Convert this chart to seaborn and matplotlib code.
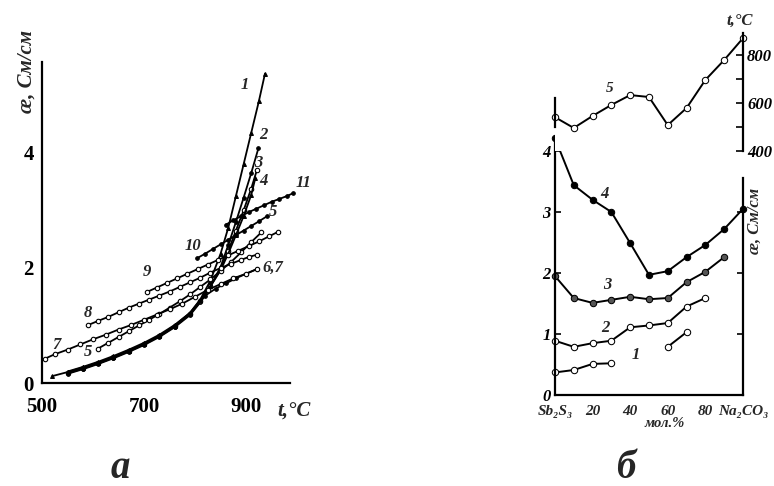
import matplotlib
matplotlib.use("Agg")
import matplotlib.pyplot as plt
import seaborn as sns

sns.set_style("white")
plt.rcParams['font.family'] = ['Liberation Serif', 'DejaVu Serif']

# ---------------- panel a : conductivity vs temperature ----------------
c1_T = [520, 550, 580, 610, 640, 670, 700, 730, 760, 790, 810, 830, 850, 865, 880, 895, 910, 925, 937]
c1_k = [0.12, 0.19, 0.27, 0.35, 0.45, 0.56, 0.68, 0.82, 1.0, 1.22, 1.45, 1.78, 2.25, 2.7, 3.25, 3.8, 4.35, 4.9, 5.38]
c2_T = [550, 580, 610, 640, 670, 700, 730, 760, 790, 810, 830, 850, 865, 880, 895, 910, 924]
c2_k = [0.16, 0.24, 0.33, 0.43, 0.54, 0.66, 0.8, 0.97, 1.18, 1.4, 1.68, 2.02, 2.4, 2.8, 3.22, 3.65, 4.08]
c3_T = [550, 580, 610, 640, 670, 700, 730, 760, 790, 810, 830, 850, 865, 880, 895, 910, 921]
c3_k = [0.18, 0.26, 0.35, 0.45, 0.56, 0.68, 0.82, 0.99, 1.2, 1.42, 1.68, 1.98, 2.3, 2.65, 3.0, 3.38, 3.7]
c4_T = [550, 580, 610, 640, 670, 700, 730, 760, 790, 810, 830, 850, 865, 880, 895, 910, 918]
c4_k = [0.2, 0.28, 0.37, 0.47, 0.58, 0.7, 0.84, 1.01, 1.22, 1.44, 1.68, 1.96, 2.25, 2.57, 2.9, 3.27, 3.56]
c5_T = [610, 630, 650, 670, 690, 710, 730, 750, 770, 790, 810, 830, 850, 870, 890, 910, 930]
c5_k = [0.6, 0.7, 0.8, 0.9, 1.0, 1.1, 1.2, 1.31, 1.42, 1.54, 1.67, 1.8, 1.95, 2.1, 2.27, 2.45, 2.62]
c6_T = [550, 580, 610, 640, 670, 700, 730, 760, 790, 820, 840, 860, 880, 900, 921]
c6_k = [0.17, 0.25, 0.34, 0.44, 0.55, 0.67, 0.81, 0.98, 1.2, 1.52, 1.64, 1.73, 1.82, 1.9, 1.98]
c7_T = [505, 525, 550, 575, 600, 625, 650, 675, 700, 725, 750, 775, 800, 825, 850, 875, 900, 921]
c7_k = [0.42, 0.5, 0.58, 0.67, 0.76, 0.84, 0.93, 1.01, 1.1, 1.19, 1.28, 1.38, 1.5, 1.62, 1.72, 1.82, 1.9, 1.98]
c8_T = [591, 610, 630, 650, 670, 690, 710, 730, 750, 770, 790, 810, 830, 850, 870, 890, 905, 921]
c8_k = [1.01, 1.08, 1.15, 1.23, 1.31, 1.38, 1.45, 1.52, 1.59, 1.67, 1.75, 1.83, 1.92, 2.0, 2.07, 2.14, 2.19, 2.23]
c9_T = [705, 725, 745, 765, 785, 805, 825, 845, 865, 885, 905, 925, 945, 963]
c9_k = [1.58, 1.66, 1.74, 1.82, 1.9, 1.98, 2.06, 2.14, 2.22, 2.3, 2.38, 2.46, 2.55, 2.63]
c10_T = [804, 820, 835, 850, 865, 880, 895, 910, 925, 941]
c10_k = [2.17, 2.25, 2.33, 2.41, 2.49, 2.57, 2.65, 2.73, 2.81, 2.9]
c11_T = [860, 875, 890, 905, 920, 935, 950, 965, 980, 992]
c11_k = [2.75, 2.83, 2.9, 2.97, 3.03, 3.09, 3.15, 3.2, 3.25, 3.3]

a_xticks = [500, 600, 700, 800, 900]
a_xticklabels = ['500', '', '700', '', '900']
a_yticks = [0, 1, 2, 3, 4, 5]
a_yticklabels = ['0', '', '2', '', '4', '']
a_labels = ['1', '2', '3', '4', '11', '5', '10', '6,7', '9', '8', '7', '5']
a_label_T = [898, 933, 924, 933, 1012, 953, 796, 953, 706, 590, 529, 590]
a_label_k = [5.18, 4.31, 3.83, 3.51, 3.48, 2.97, 2.38, 2.0, 1.93, 1.22, 0.66, 0.54]

# ---------------- panel б : composition dependence ----------------
comp = [0, 10, 20, 30, 40, 50, 60, 70, 80, 90, 100]
t5 = [541, 496, 546, 592, 633, 625, 508, 579, 696, 779, 870]
k4 = [4.21, 3.44, 3.2, 3.0, 2.49, 1.97, 2.03, 2.26, 2.46, 2.72, 3.05]
comp3 = [0, 10, 20, 30, 40, 50, 60, 70, 80, 90]
k3 = [1.95, 1.59, 1.51, 1.56, 1.61, 1.57, 1.59, 1.85, 2.02, 2.26]
comp2 = [0, 10, 20, 30, 40, 50, 60, 70, 80]
k2 = [0.89, 0.79, 0.85, 0.89, 1.11, 1.14, 1.18, 1.45, 1.59]
comp1a = [0, 10, 20, 30]
k1a = [0.37, 0.41, 0.51, 0.52]
comp1b = [60, 70]
k1b = [0.79, 1.03]

b_xticks = [0, 20, 40, 60, 80, 100]
b_xticklabels = ['Sb\u2082S\u2083', '20', '40', '60', '80', 'Na\u2082CO\u2083']
b_yticks = [0, 1, 2, 3, 4]
t_yticks = [400, 500, 600, 700, 800]
t_yticklabels = ['400', '', '600', '', '800']
b_labels = ['4', '3', '2', '1']
b_label_x = [26.5, 28, 27, 43]
b_label_y = [3.3, 1.8, 1.1, 0.65]

fig = plt.figure(figsize=(7.74, 4.86), dpi=100)
fig.patch.set_facecolor('white')

# ---- panel a ----
axA = fig.add_axes([0.0543, 0.2119, 0.3204, 0.6605])
lw = 1.3
filled = dict(color='black', marker='o', markersize=2.6, markerfacecolor='black',
              markeredgecolor='black', linewidth=lw)
opened = dict(color='black', marker='o', markersize=3.2, markerfacecolor='white',
              markeredgecolor='black', markeredgewidth=0.8, linewidth=lw)
tri = dict(color='black', marker='^', markersize=2.8, markerfacecolor='black',
           markeredgecolor='black', linewidth=lw)
series_a = [(c1_T, c1_k, tri), (c2_T, c2_k, filled), (c3_T, c3_k, opened),
            (c4_T, c4_k, tri), (c5_T, c5_k, opened), (c6_T, c6_k, filled),
            (c7_T, c7_k, opened), (c8_T, c8_k, opened), (c9_T, c9_k, opened),
            (c10_T, c10_k, filled), (c11_T, c11_k, filled)]
for T, k, st in series_a:
    sns.lineplot(x=T, y=k, ax=axA, sort=False, errorbar=None, clip_on=False, **st)

axA.set_xlim(500, 986)
axA.set_ylim(0, 5.58)
for s in ['top', 'right']:
    axA.spines[s].set_visible(False)
for s in ['left', 'bottom']:
    axA.spines[s].set_linewidth(1.6)
    axA.spines[s].set_color('black')
axA.set_xticks(a_xticks)
axA.set_xticklabels(a_xticklabels, fontsize=15, fontweight='bold')
axA.set_yticks(a_yticks)
axA.set_yticklabels(a_yticklabels, fontsize=15, fontweight='bold')
axA.tick_params(direction='in', length=4, width=1.3, colors='black', pad=6)
axA.tick_params(axis='x', pad=10)
for lab, T, k in zip(a_labels, a_label_T, a_label_k):
    axA.text(T, k, lab, fontsize=12, fontstyle='italic', fontweight='bold',
             ha='center', va='center', clip_on=False)
fig.text(0.380, 0.156, 't,°C', fontsize=15, fontstyle='italic', fontweight='bold',
         ha='center', va='center')
fig.text(0.034, 0.852, 'æ, См/см', fontsize=15, fontstyle='italic', fontweight='bold',
         rotation=90, ha='center', va='center')
fig.text(0.155, 0.037, 'а', fontsize=28, fontstyle='italic', fontweight='bold',
         ha='center', va='center')

# ---- panel б, lower (conductivity) ----
axB = fig.add_axes([0.717, 0.1872, 0.2429, 0.531])
ms = 4.6
sns.lineplot(x=comp, y=k4, ax=axB, color='black', marker='o', markersize=ms,
             markerfacecolor='black', markeredgecolor='black', linewidth=1.4,
             sort=False, errorbar=None, clip_on=False)
sns.lineplot(x=comp3, y=k3, ax=axB, color='black', marker='o', markersize=ms,
             markerfacecolor='#555555', markeredgecolor='black', linewidth=1.4,
             sort=False, errorbar=None, clip_on=False)
sns.lineplot(x=comp2, y=k2, ax=axB, color='black', marker='o', markersize=ms,
             markerfacecolor='white', markeredgecolor='black', linewidth=1.4,
             sort=False, errorbar=None, clip_on=False)
sns.lineplot(x=comp1a, y=k1a, ax=axB, color='black', marker='o', markersize=ms,
             markerfacecolor='white', markeredgecolor='black', linewidth=1.4,
             sort=False, errorbar=None, clip_on=False)
sns.lineplot(x=comp1b, y=k1b, ax=axB, color='black', marker='o', markersize=ms,
             markerfacecolor='white', markeredgecolor='black', linewidth=1.4,
             sort=False, errorbar=None, clip_on=False)
axB.set_xlim(0, 100)
axB.set_ylim(0, 4.23)
axB.spines['top'].set_visible(False)
for s in ['left', 'bottom', 'right']:
    axB.spines[s].set_linewidth(1.6)
    axB.spines[s].set_color('black')
axB.spines['right'].set_bounds(0, 3.55)
axB.set_xticks(b_xticks)
axB.set_xticklabels(b_xticklabels, fontsize=11, fontstyle='italic', fontweight='bold')
axB.tick_params(axis='x', length=0, pad=7)
axB.set_yticks(b_yticks)
axB.set_yticklabels([str(v) for v in b_yticks], fontsize=12, fontstyle='italic',
                    fontweight='bold')
axB.tick_params(axis='y', direction='in', length=4, width=1.2, pad=3, colors='black')
axBr = axB.twinx()
axBr.set_ylim(0, 4.23)
for s in ['top', 'left', 'bottom', 'right']:
    axBr.spines[s].set_visible(False)
axBr.set_yticks([1, 2, 3])
axBr.set_yticklabels([])
axBr.tick_params(axis='y', direction='in', length=4, width=1.2, colors='black')
for lab, xx, yy in zip(b_labels, b_label_x, b_label_y):
    axB.text(xx, yy, lab, fontsize=12, fontstyle='italic', fontweight='bold',
             ha='center', va='center')
fig.text(0.859, 0.128, 'мол.%', fontsize=10.5, fontstyle='italic', fontweight='bold',
         ha='center', va='center')
fig.text(0.975, 0.545, 'æ, См/см', fontsize=12, fontstyle='italic', fontweight='bold',
         rotation=90, ha='center', va='center')
fig.text(0.808, 0.037, 'б', fontsize=28, fontstyle='italic', fontweight='bold',
         ha='center', va='center')

# ---- panel б, upper (temperature) ----
axT = fig.add_axes([0.717, 0.6893, 0.2429, 0.2469])
sns.lineplot(x=comp, y=t5, ax=axT, color='black', marker='o', markersize=ms,
             markerfacecolor='white', markeredgecolor='black', linewidth=1.4,
             sort=False, errorbar=None, clip_on=False)
axT.set_xlim(0, 100)
axT.set_ylim(400, 900)
axT.spines['top'].set_visible(False)
axT.spines['bottom'].set_visible(False)
axT.spines['left'].set_bounds(500, 620)
axT.spines['right'].set_bounds(400, 890)
for s in ['left', 'right']:
    axT.spines[s].set_linewidth(1.6)
    axT.spines[s].set_color('black')
axT.set_xticks([])
axT.yaxis.tick_right()
axT.set_yticks(t_yticks)
axT.set_yticklabels(t_yticklabels, fontsize=12, fontstyle='italic', fontweight='bold')
axT.tick_params(axis='y', direction='in', length=5, width=1.2, pad=3, colors='black')
axT.text(29, 662, '5', fontsize=11, fontstyle='italic', fontweight='bold',
         ha='center', va='center')
fig.text(0.956, 0.957, 't,°C', fontsize=12, fontstyle='italic', fontweight='bold',
         ha='center', va='center')

fig.savefig('out.png', dpi=100, facecolor='white')
